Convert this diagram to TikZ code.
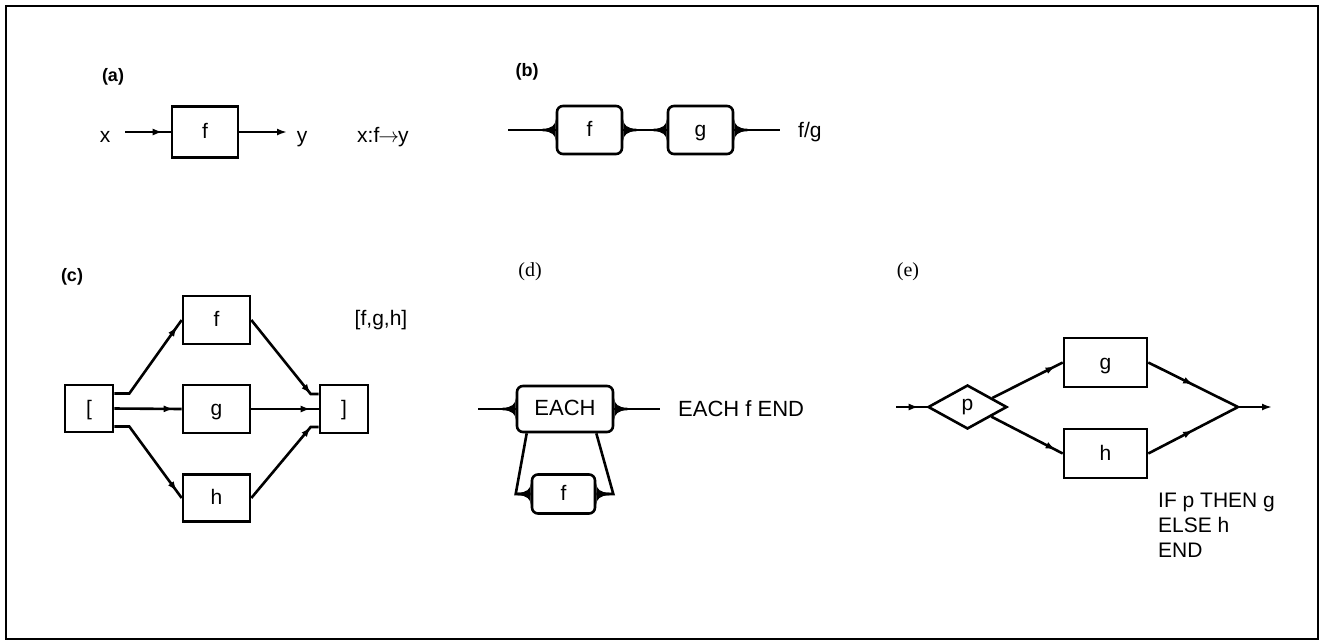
\documentclass[tikz,border=0pt]{standalone}
\usepackage{fontspec}
\setmainfont{Liberation Sans}
\newfontfamily\tagserif{Liberation Serif}
\usetikzlibrary{positioning,arrows.meta,shapes.geometric,decorations.markings}

\tikzset{
  box/.style={draw, line width=2.6pt, inner sep=0pt, minimum width=66pt,
              minimum height=49pt, text height=15pt, text depth=2pt,
              font=\fontsize{21}{25}\selectfont},
  rbox/.style={box, rounded corners=6pt},
  txt/.style={inner sep=0pt, font=\fontsize{21}{25}\selectfont},
  tag/.style={inner sep=0pt, font=\bfseries\fontsize{18}{21}\selectfont},
  serftag/.style={inner sep=0pt, font=\tagserif\fontsize{20}{23}\selectfont},
  link/.style={line width=2.6pt},
  arr/.style={link, -{Latex[length=10pt,width=7pt]}},
  nearend/.style={link, postaction=decorate,
    decoration={markings, mark=at position -8pt with {\arrow{Latex[length=10pt,width=7pt]}}}},
  midarr/.style={link, postaction=decorate,
    decoration={markings, mark=at position 0.5 with {\arrow{Latex[length=10pt,width=7pt]}}}},
  flare/.pic={\fill (0,-11) .. controls (0,-5) and (-4,-1.3) .. (-13,-1.3)
    -- (-13,1.3) .. controls (-4,1.3) and (0,5) .. (0,11) -- cycle;}
}

\begin{document}
\begin{tikzpicture}[x=1pt, y=-1pt]
  \useasboundingbox (0,0) rectangle (1328,641);
  \draw[line width=2pt] (6,6) rectangle (1318,639);

  \node[tag] (taga) at (113,77) {(a)};
  \node[box, minimum height=51pt] (fa) at (205,132) {f};
  \node[txt, anchor=base] (xa) at (105,142) {x};
  \node[txt, anchor=base] (ya) at (302,142) {y};
  \node[txt, anchor=base west] (rulea) at (357,142)
    {x:f\kern-1pt$\rightarrow$\kern-1pt y};
  \coordinate (ain) at (125,132);
  \coordinate (aout) at (287,132);
  \draw[nearend] (ain) -- (fa.west);
  \draw[arr] (fa.east) -- (aout);

  \node[tag] (tagb) at (527,72) {(b)};
  \node[rbox, minimum width=65pt, minimum height=48pt] (fb) at (589.5,130) {f};
  \node[rbox, minimum width=65pt, minimum height=48pt] (gb) at (700.5,130) {g};
  \node[txt, anchor=base west] (ruleb) at (798,137) {f/g};
  \coordinate (bin) at (508,130);
  \coordinate (bout) at (780,130);
  \draw[link] (bin) -- (fb.west);
  \draw[link] (fb.east) -- (gb.west);
  \draw[link] (gb.east) -- (bout);
  \foreach \n in {fb,gb} {
    \pic at (\n.west) {flare};
    \pic[xscale=-1] at (\n.east) {flare};
  }

  \node[tag] (tagc) at (72,277) {(c)};
  \node[box, minimum width=48pt, minimum height=47pt] (lbr) at (89,408.5) {[};
  \node[box, minimum width=67pt, minimum height=48pt] (fc) at (216.5,320) {f};
  \node[box, minimum width=67pt, minimum height=48pt] (gc) at (216.5,409) {g};
  \node[box, minimum width=67pt, minimum height=47pt] (hc) at (216.5,498) {h};
  \node[box, minimum width=48pt, minimum height=48pt] (rbr) at (344,409) {]};
  \node[txt] (rulec) at (381,320) {[f,g,h]};
  \draw[nearend] ([yshift=15pt]lbr.east) -- ++(15,0) -- (fc.west);
  \draw[nearend] (lbr.east) -- (gc.west);
  \draw[nearend] ([yshift=-18pt]lbr.east) -- ++(15,0) -- (hc.west);
  \draw[nearend] (fc.east) -- ([xshift=-8pt,yshift=15pt]rbr.west)
    -- ([yshift=15pt]rbr.west);
  \draw[nearend] (gc.east) -- (rbr.west);
  \draw[nearend] (hc.east) -- ([xshift=-8pt,yshift=-18pt]rbr.west)
    -- ([yshift=-18pt]rbr.west);

  \node[serftag] (tagd) at (530,272) {(d)};
  \node[rbox, minimum width=96pt, minimum height=46pt,
        font=\fontsize{22}{26}\selectfont] (each) at (565,409) {EACH};
  \node[rbox, minimum width=63pt, minimum height=39pt] (fd) at (563.5,494) {f};
  \node[txt, anchor=west, font=\fontsize{22}{26}\selectfont] (ruled) at (678,409)
    {EACH f END};
  \coordinate (din) at (478,409);
  \coordinate (dout) at (660,409);
  \draw[link] (din) -- (each.west);
  \draw[link] (each.east) -- (dout);
  \draw[link] ([xshift=11pt]each.south west) -- ([xshift=-15pt]fd.west) -- (fd.west);
  \draw[link] ([xshift=-18pt]each.south east) -- ([xshift=17pt]fd.east) -- (fd.east);
  \foreach \n in {each,fd} {
    \pic at (\n.west) {flare};
    \pic[xscale=-1] at (\n.east) {flare};
  }

  \node[serftag] (tage) at (908,272) {(e)};
  \node[draw, diamond, aspect=1.8, line width=2.6pt, inner sep=0pt,
        minimum width=79pt, minimum height=44pt,
        font=\fontsize{21}{25}\selectfont] (pe) at (967.5,407) {p};
  \node[box, minimum width=83pt, minimum height=49pt] (ge) at (1105.5,362.5) {g};
  \node[box, minimum width=83pt, minimum height=49pt] (he) at (1105.5,453.5) {h};
  \node[txt, anchor=north west, align=left] (rulee) at (1158,493)
    {IF p THEN g\\ELSE h\\END};
  \coordinate (ein) at (896,407);
  \coordinate (ej) at (1238,407);
  \coordinate (eout) at (1272,407);
  \draw[nearend] (ein) -- (pe.west);
  \draw[nearend] (pe.20) -- (ge.west);
  \draw[nearend] (pe.-22) -- (he.west);
  \draw[midarr] (ge.east) -- (ej);
  \draw[midarr] (he.east) -- (ej);
  \draw[arr] (ej) -- (eout);
\end{tikzpicture}
\end{document}
